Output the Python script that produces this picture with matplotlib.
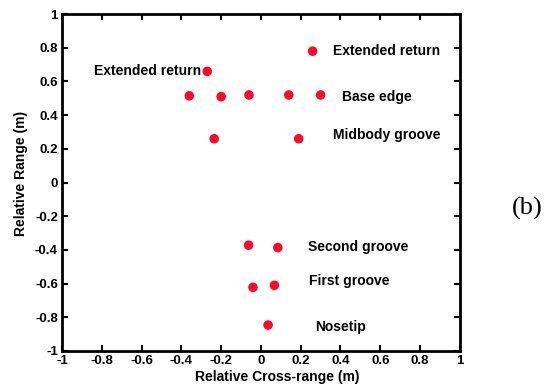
import matplotlib
matplotlib.use("Agg")
import matplotlib.pyplot as plt

# Scatter data (relative cross-range, relative range)
xs = [0.26, -0.27, -0.36, -0.20, -0.06, 0.14, 0.30, -0.235, 0.19,
      -0.062, 0.085, -0.04, 0.068, 0.036]
ys = [0.78, 0.66, 0.515, 0.51, 0.52, 0.52, 0.52, 0.26, 0.26,
      -0.372, -0.386, -0.622, -0.61, -0.846]

# Annotations
labels = ["Extended return", "Extended return", "Base edge", "Midbody groove",
          "Second groove", "First groove", "Nosetip"]
label_x = [0.36, -0.30, 0.41, 0.36, 0.235, 0.24, 0.27]
label_y = [0.78, 0.66, 0.51, 0.285, -0.38, -0.586, -0.86]
label_ha = ["left", "right", "left", "left", "left", "left", "left"]

ticks = [-1, -0.8, -0.6, -0.4, -0.2, 0, 0.2, 0.4, 0.6, 0.8, 1]
tick_labels = ["-1", "-0.8", "-0.6", "-0.4", "-0.2", "0", "0.2", "0.4", "0.6", "0.8", "1"]

plt.rcParams['font.family'] = ['Liberation Sans', 'DejaVu Sans']

fig = plt.figure(figsize=(5.54, 3.89), dpi=100)
ax = fig.add_axes([0.112, 0.0977, 0.718, 0.866])

ax.scatter(xs, ys, s=48, color='#ff0a2a', edgecolors='none', zorder=3)

for t, x, y, ha in zip(labels, label_x, label_y, label_ha):
    ax.text(x, y, t, ha=ha, va='center', fontsize=10, fontweight='bold')

ax.set_xlim(-1, 1)
ax.set_ylim(-1, 1)
ax.set_xticks(ticks)
ax.set_xticklabels(tick_labels)
ax.set_yticks(ticks)
ax.set_yticklabels(tick_labels)
for lab in ax.get_xticklabels() + ax.get_yticklabels():
    lab.set_fontweight('bold')
    lab.set_fontsize(9.5)
ax.tick_params(direction='in', length=4, width=1.5, top=True, right=True, pad=3)
for sp in ax.spines.values():
    sp.set_linewidth(2)

ax.set_xlabel("Relative Cross-range (m)", fontsize=10, fontweight='bold', labelpad=2)
ax.set_ylabel("Relative Range (m)", fontsize=10, fontweight='bold', labelpad=5)
ax.xaxis.label.set_x(0.54)
ax.yaxis.label.set_y(0.528)

fig.text(527/554, 1 - 208/389, "(b)", fontsize=19, family='Liberation Serif',
         ha='center', va='center')

fig.savefig("out.png", dpi=100)
